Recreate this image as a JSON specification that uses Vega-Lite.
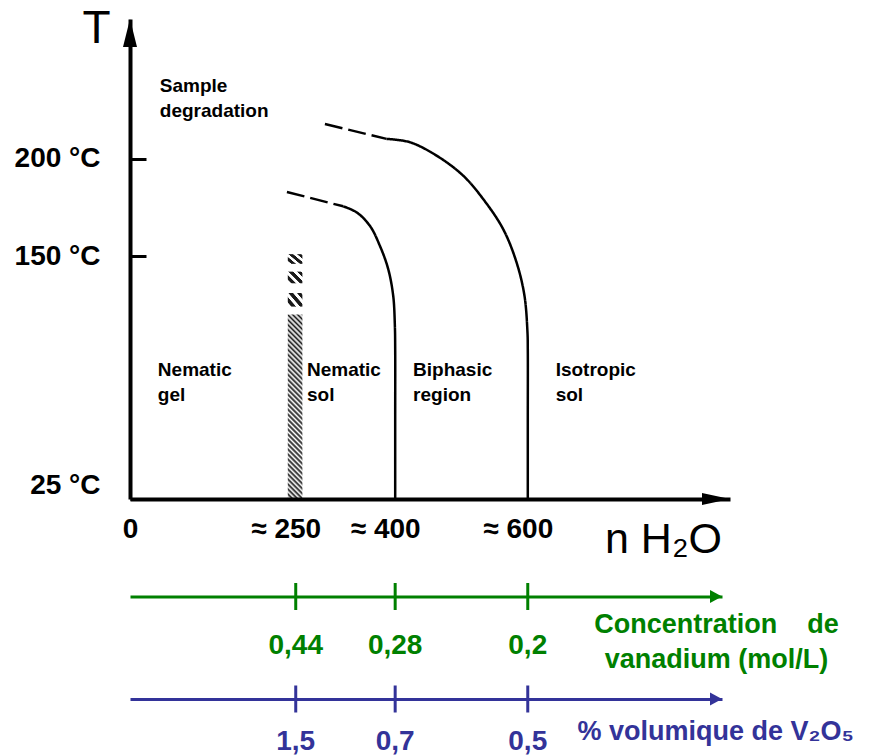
{
  "$schema": "https://vega.github.io/schema/vega-lite/v6.json",
  "background": "white",
  "padding": {"left": 14, "top": 5, "right": 0, "bottom": 0},
  "config": {"view": {"stroke": null}, "font": "Liberation Sans"},
  "spacing": 97.5,
  "bounds": "flush",
  "resolve": {"scale": {"x": "independent", "y": "independent"}},
  "datasets": {
    "gel": [{"n0": 238, "n1": 260, "T0": 25, "T1": 120}],
    "gelTop": [
      {"n0": 238, "n1": 260, "T0": 124, "T1": 131},
      {"n0": 238, "n1": 260, "T0": 136, "T1": 142},
      {"n0": 238, "n1": 260, "T0": 146, "T1": 151}
    ],
    "curves": [
      {"seg": "inner-dashed", "style": "dashed", "i": 0, "n": 236.7, "T": 183.0},
      {"seg": "inner-dashed", "style": "dashed", "i": 1, "n": 321.6, "T": 175.6},
      {"seg": "inner-solid", "style": "solid", "i": 0, "n": 321.6, "T": 175.6},
      {"seg": "inner-solid", "style": "solid", "i": 1, "n": 341.8, "T": 172.5},
      {"seg": "inner-solid", "style": "solid", "i": 2, "n": 361.8, "T": 165.6},
      {"seg": "inner-solid", "style": "solid", "i": 3, "n": 376.9, "T": 155.3},
      {"seg": "inner-solid", "style": "solid", "i": 4, "n": 389.4, "T": 143.4},
      {"seg": "inner-solid", "style": "solid", "i": 5, "n": 397.0, "T": 129.6},
      {"seg": "inner-solid", "style": "solid", "i": 6, "n": 399.5, "T": 114.2},
      {"seg": "inner-solid", "style": "solid", "i": 7, "n": 400, "T": 102},
      {"seg": "inner-solid", "style": "solid", "i": 8, "n": 400, "T": 66},
      {"seg": "inner-solid", "style": "solid", "i": 9, "n": 400, "T": 25},
      {"seg": "outer-dashed", "style": "dashed", "i": 0, "n": 294.0, "T": 218.0},
      {"seg": "outer-dashed", "style": "dashed", "i": 1, "n": 387.0, "T": 210.3},
      {"seg": "outer-solid", "style": "solid", "i": 0, "n": 387.0, "T": 210.3},
      {"seg": "outer-solid", "style": "solid", "i": 1, "n": 422.1, "T": 208.6},
      {"seg": "outer-solid", "style": "solid", "i": 2, "n": 462.4, "T": 201.7},
      {"seg": "outer-solid", "style": "solid", "i": 3, "n": 502.5, "T": 191.4},
      {"seg": "outer-solid", "style": "solid", "i": 4, "n": 532.6, "T": 179.4},
      {"seg": "outer-solid", "style": "solid", "i": 5, "n": 562.8, "T": 163.9},
      {"seg": "outer-solid", "style": "solid", "i": 6, "n": 583.0, "T": 146.8},
      {"seg": "outer-solid", "style": "solid", "i": 7, "n": 595.0, "T": 129.6},
      {"seg": "outer-solid", "style": "solid", "i": 8, "n": 599.5, "T": 110.9},
      {"seg": "outer-solid", "style": "solid", "i": 9, "n": 600, "T": 102},
      {"seg": "outer-solid", "style": "solid", "i": 10, "n": 600, "T": 66},
      {"seg": "outer-solid", "style": "solid", "i": 11, "n": 600, "T": 25}
    ],
    "regions": [
      {"n": 45, "T": 242, "label": "Sample\ndegradation"},
      {"n": 42, "T": 96, "label": "Nematic\ngel"},
      {"n": 267, "T": 96, "label": "Nematic\nsol"},
      {"n": 427, "T": 96, "label": "Biphasic\nregion"},
      {"n": 642, "T": 96, "label": "Isotropic\nsol"}
    ],
    "conc": [
      {"n": 250, "c": "0,44"},
      {"n": 400, "c": "0,28"},
      {"n": 600, "c": "0,2"}
    ],
    "vol": [
      {"n": 250, "v": "1,5"},
      {"n": 400, "v": "0,7"},
      {"n": 600, "v": "0,5"}
    ]
  },
  "vconcat": [
    {
      "width": 600,
      "height": 480,
      "layer": [
        {
          "data": {"name": "gel"},
          "mark": {
            "type": "rect",
            "color": {
              "gradient": "linear", "x1": 0, "y1": 1, "x2": 0.0848, "y2": -0.0724,
              "stops": [
                {"offset": 0, "color": "#1a1a1a"}, {"offset": 0.0125, "color": "#ffffff"},
                {"offset": 0.025, "color": "#1a1a1a"}, {"offset": 0.0375, "color": "#ffffff"},
                {"offset": 0.05, "color": "#1a1a1a"}, {"offset": 0.0625, "color": "#ffffff"},
                {"offset": 0.075, "color": "#1a1a1a"}, {"offset": 0.0875, "color": "#ffffff"},
                {"offset": 0.1, "color": "#1a1a1a"}, {"offset": 0.1125, "color": "#ffffff"},
                {"offset": 0.125, "color": "#1a1a1a"}, {"offset": 0.1375, "color": "#ffffff"},
                {"offset": 0.15, "color": "#1a1a1a"}, {"offset": 0.1625, "color": "#ffffff"},
                {"offset": 0.175, "color": "#1a1a1a"}, {"offset": 0.1875, "color": "#ffffff"},
                {"offset": 0.2, "color": "#1a1a1a"}, {"offset": 0.2125, "color": "#ffffff"},
                {"offset": 0.225, "color": "#1a1a1a"}, {"offset": 0.2375, "color": "#ffffff"},
                {"offset": 0.25, "color": "#1a1a1a"}, {"offset": 0.2625, "color": "#ffffff"},
                {"offset": 0.275, "color": "#1a1a1a"}, {"offset": 0.2875, "color": "#ffffff"},
                {"offset": 0.3, "color": "#1a1a1a"}, {"offset": 0.3125, "color": "#ffffff"},
                {"offset": 0.325, "color": "#1a1a1a"}, {"offset": 0.3375, "color": "#ffffff"},
                {"offset": 0.35, "color": "#1a1a1a"}, {"offset": 0.3625, "color": "#ffffff"},
                {"offset": 0.375, "color": "#1a1a1a"}, {"offset": 0.3875, "color": "#ffffff"},
                {"offset": 0.4, "color": "#1a1a1a"}, {"offset": 0.4125, "color": "#ffffff"},
                {"offset": 0.425, "color": "#1a1a1a"}, {"offset": 0.4375, "color": "#ffffff"},
                {"offset": 0.45, "color": "#1a1a1a"}, {"offset": 0.4625, "color": "#ffffff"},
                {"offset": 0.475, "color": "#1a1a1a"}, {"offset": 0.4875, "color": "#ffffff"},
                {"offset": 0.5, "color": "#1a1a1a"}, {"offset": 0.5125, "color": "#ffffff"},
                {"offset": 0.525, "color": "#1a1a1a"}, {"offset": 0.5375, "color": "#ffffff"},
                {"offset": 0.55, "color": "#1a1a1a"}, {"offset": 0.5625, "color": "#ffffff"},
                {"offset": 0.575, "color": "#1a1a1a"}, {"offset": 0.5875, "color": "#ffffff"},
                {"offset": 0.6, "color": "#1a1a1a"}, {"offset": 0.6125, "color": "#ffffff"},
                {"offset": 0.625, "color": "#1a1a1a"}, {"offset": 0.6375, "color": "#ffffff"},
                {"offset": 0.65, "color": "#1a1a1a"}, {"offset": 0.6625, "color": "#ffffff"},
                {"offset": 0.675, "color": "#1a1a1a"}, {"offset": 0.6875, "color": "#ffffff"},
                {"offset": 0.7, "color": "#1a1a1a"}, {"offset": 0.7125, "color": "#ffffff"},
                {"offset": 0.725, "color": "#1a1a1a"}, {"offset": 0.7375, "color": "#ffffff"},
                {"offset": 0.75, "color": "#1a1a1a"}, {"offset": 0.7625, "color": "#ffffff"},
                {"offset": 0.775, "color": "#1a1a1a"}, {"offset": 0.7875, "color": "#ffffff"},
                {"offset": 0.8, "color": "#1a1a1a"}, {"offset": 0.8125, "color": "#ffffff"},
                {"offset": 0.825, "color": "#1a1a1a"}, {"offset": 0.8375, "color": "#ffffff"},
                {"offset": 0.85, "color": "#1a1a1a"}, {"offset": 0.8625, "color": "#ffffff"},
                {"offset": 0.875, "color": "#1a1a1a"}, {"offset": 0.8875, "color": "#ffffff"},
                {"offset": 0.9, "color": "#1a1a1a"}, {"offset": 0.9125, "color": "#ffffff"},
                {"offset": 0.925, "color": "#1a1a1a"}, {"offset": 0.9375, "color": "#ffffff"},
                {"offset": 0.95, "color": "#1a1a1a"}, {"offset": 0.9625, "color": "#ffffff"},
                {"offset": 0.975, "color": "#1a1a1a"}, {"offset": 0.9875, "color": "#ffffff"},
                {"offset": 1, "color": "#1a1a1a"}
              ]
            }
          },
          "encoding": {
            "x": {
              "field": "n0", "type": "quantitative",
              "scale": {"domain": [0, 905], "nice": false, "zero": false},
              "axis": {
                "values": [0, 250, 400, 600],
                "labelExpr": "datum.value == 0 ? '0' : '≈ ' + datum.value",
                "ticks": false, "grid": false, "zindex": 1,
                "domainColor": "black", "domainWidth": 4,
                "labelFontSize": 28, "labelFontWeight": "bold", "labelColor": "black",
                "labelPadding": 16, "labelFlush": false, "labelOverlap": false,
                "labelOffset": {"condition": {"test": "datum.value == 0", "value": 0}, "value": -10},
                "title": "n H₂O", "titleFontSize": 43, "titleFontWeight": "normal", "titleColor": "black",
                "titleX": 533, "titleY": 53, "titleAlign": "center", "titleBaseline": "alphabetic"
              }
            },
            "x2": {"field": "n1"},
            "y": {
              "field": "T0", "type": "quantitative",
              "scale": {"domain": [25, 272], "nice": false, "zero": false},
              "axis": {
                "values": [25, 150, 200],
                "labelExpr": "datum.value + ' °C'",
                "tickSize": -16, "tickWidth": 3, "tickColor": "black",
                "grid": false, "zindex": 1,
                "domainColor": "black", "domainWidth": 4,
                "labelFontSize": 28, "labelFontWeight": "bold", "labelColor": "black",
                "labelPadding": 46, "labelFlush": false, "labelOverlap": false,
                "labelOffset": {"condition": {"test": "datum.value == 25", "value": -14}, "value": 0},
                "title": "T", "titleAngle": 0, "titleFontSize": 46, "titleFontWeight": "normal", "titleColor": "black",
                "titleX": -34, "titleY": 23, "titleAlign": "center", "titleBaseline": "alphabetic"
              }
            },
            "y2": {"field": "T1"}
          }
        },
        {
          "data": {"name": "gelTop"},
          "mark": {
            "type": "rect",
            "color": {
              "gradient": "linear", "x1": 0, "y1": 1, "x2": 1.0976, "y2": 0.122,
              "stops": [
                {"offset": 0, "color": "#ffffff"}, {"offset": 0.12, "color": "#ffffff"},
                {"offset": 0.15, "color": "#1a1a1a"}, {"offset": 0.3, "color": "#1a1a1a"},
                {"offset": 0.33, "color": "#ffffff"}, {"offset": 0.45, "color": "#ffffff"},
                {"offset": 0.48, "color": "#1a1a1a"}, {"offset": 0.63, "color": "#1a1a1a"},
                {"offset": 0.66, "color": "#ffffff"}, {"offset": 0.78, "color": "#ffffff"},
                {"offset": 0.81, "color": "#1a1a1a"}, {"offset": 0.94, "color": "#1a1a1a"},
                {"offset": 0.97, "color": "#ffffff"}, {"offset": 1, "color": "#ffffff"}
              ]
            }
          },
          "encoding": {
            "x": {"field": "n0", "type": "quantitative"},
            "x2": {"field": "n1"},
            "y": {"field": "T0", "type": "quantitative"},
            "y2": {"field": "T1"}
          }
        },
        {
          "data": {"name": "curves"},
          "mark": {"type": "line", "interpolate": "catmull-rom", "color": "black", "strokeWidth": 2.5},
          "encoding": {
            "x": {"field": "n", "type": "quantitative"},
            "y": {"field": "T", "type": "quantitative"},
            "detail": {"field": "seg", "type": "nominal"},
            "order": {"field": "i", "type": "quantitative"},
            "strokeDash": {
              "field": "style", "type": "nominal",
              "scale": {"domain": ["solid", "dashed"], "range": [[1, 0], [18, 6]]},
              "legend": null
            }
          }
        },
        {
          "data": {"name": "regions"},
          "mark": {"type": "text", "align": "left", "baseline": "top", "fontSize": 19, "fontWeight": "bold", "lineBreak": "\n", "lineHeight": 25, "color": "black"},
          "encoding": {
            "x": {"field": "n", "type": "quantitative"},
            "y": {"field": "T", "type": "quantitative"},
            "text": {"field": "label", "type": "nominal"}
          }
        },
        {
          "data": {"values": [{}]},
          "mark": {"type": "point", "shape": "M0,0L-0.7,2.8L0.7,2.8Z", "size": 400, "filled": true, "color": "black", "opacity": 1, "strokeWidth": 0},
          "encoding": {"x": {"value": 0}, "y": {"value": 0}}
        },
        {
          "data": {"values": [{}]},
          "mark": {"type": "point", "shape": "M0,0L-2.8,-0.6L-2.8,0.6Z", "size": 400, "filled": true, "color": "black", "opacity": 1, "strokeWidth": 0},
          "encoding": {"x": {"value": "width"}, "y": {"value": "height"}}
        }
      ]
    },
    {
      "width": 592,
      "height": 5,
      "data": {"name": "conc"},
      "layer": [
        {
          "mark": {"type": "tick", "orient": "vertical", "thickness": 3, "size": 27, "color": "#008000", "opacity": 1},
          "encoding": {
            "x": {
              "field": "n", "type": "quantitative",
              "scale": {"domain": [0, 893], "nice": false, "zero": false},
              "axis": {
                "orient": "top", "labels": false, "ticks": false, "grid": false,
                "domainColor": "#008000", "domainWidth": 3,
                "title": ["Concentration\u00a0\u00a0\u00a0 de", "vanadium (mol/L)"],
                "titleColor": "#008000", "titleFontSize": 27, "titleFontWeight": "bold",
                "titleX": 586, "titleY": 15, "titleAlign": "center", "titleBaseline": "top",
                "titleLineHeight": 35, "titleAngle": 0
              }
            },
            "y": {"value": 0}
          }
        },
        {
          "mark": {"type": "text", "dy": 49, "fontSize": 28, "fontWeight": "bold", "color": "#008000", "baseline": "middle", "align": "center"},
          "encoding": {
            "x": {"field": "n", "type": "quantitative"},
            "y": {"value": 0},
            "text": {"field": "c", "type": "nominal"}
          }
        },
        {
          "data": {"values": [{}]},
          "mark": {"type": "point", "shape": "M0,0L-1.2,-0.65L-1.2,0.65Z", "size": 400, "filled": true, "color": "#008000", "opacity": 1, "strokeWidth": 0},
          "encoding": {"x": {"value": "width"}, "y": {"value": 0}}
        }
      ]
    },
    {
      "width": 592,
      "height": 1,
      "data": {"name": "vol"},
      "layer": [
        {
          "mark": {"type": "tick", "orient": "vertical", "thickness": 3, "size": 27, "color": "#333399", "opacity": 1},
          "encoding": {
            "x": {
              "field": "n", "type": "quantitative",
              "scale": {"domain": [0, 893], "nice": false, "zero": false},
              "axis": {
                "orient": "top", "labels": false, "ticks": false, "grid": false,
                "domainColor": "#333399", "domainWidth": 3,
                "title": "% volumique de V₂O₅",
                "titleColor": "#333399", "titleFontSize": 27, "titleFontWeight": "bold",
                "titleX": 447, "titleY": 40, "titleAlign": "left", "titleBaseline": "alphabetic",
                "titleAngle": 0
              }
            },
            "y": {"value": 0}
          }
        },
        {
          "mark": {"type": "text", "dy": 43, "fontSize": 28, "fontWeight": "bold", "color": "#333399", "baseline": "middle", "align": "center"},
          "encoding": {
            "x": {"field": "n", "type": "quantitative"},
            "y": {"value": 0},
            "text": {"field": "v", "type": "nominal"}
          }
        },
        {
          "data": {"values": [{}]},
          "mark": {"type": "point", "shape": "M0,0L-1.2,-0.65L-1.2,0.65Z", "size": 400, "filled": true, "color": "#333399", "opacity": 1, "strokeWidth": 0},
          "encoding": {"x": {"value": "width"}, "y": {"value": 0}}
        }
      ]
    }
  ]
}
